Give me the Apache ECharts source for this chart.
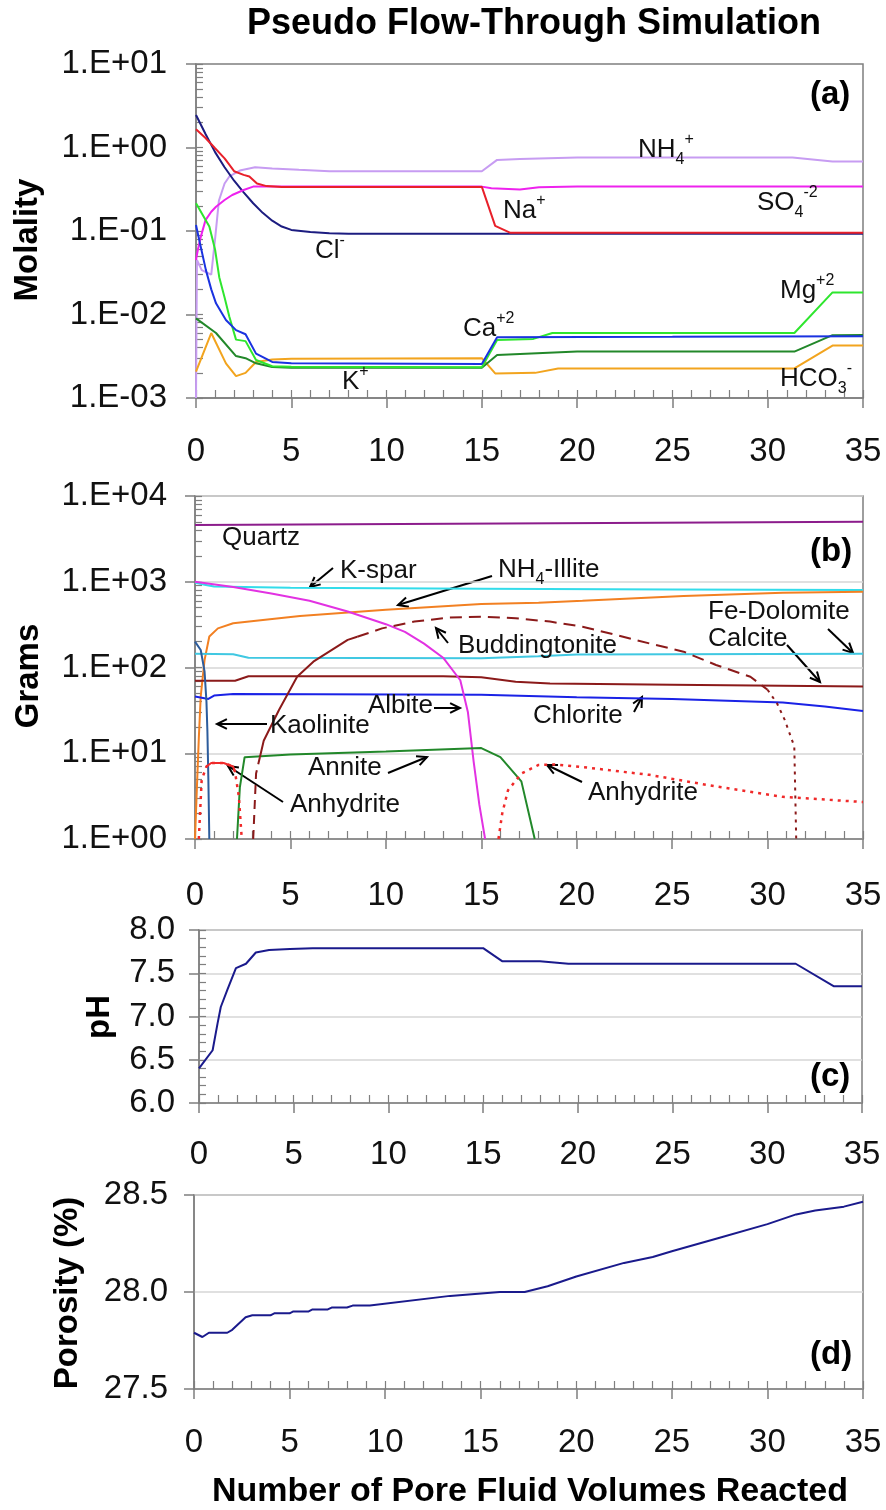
<!DOCTYPE html>
<html>
<head>
  <meta charset="utf-8">
  <script src="https://cdn.jsdelivr.net/npm/echarts@6/dist/echarts.min.js"></script>
  <style>
    html, body { margin: 0; padding: 0; background: #fff; }
    #main { width: 886px; height: 1510px; }
  </style>
</head>
<body>
  <div id="main"></div>
  <script>
    // x = number of pore fluid volumes reacted
    var xTicks = [0, 5, 10, 15, 20, 25, 30, 35];

    // (a) molality
    var molalityTicks = [0.001, 0.01, 0.1, 1, 10];
    var nh4 = [[0, 0.001], [0.05, 0.045], [0.3, 0.034], [0.8, 0.03], [1.0, 0.08], [1.2, 0.23], [1.5, 0.37], [1.75, 0.45], [2.3, 0.53], [3.1, 0.58], [4, 0.56], [5.4, 0.54], [7, 0.52], [15, 0.52], [15.8, 0.71], [17, 0.73], [20, 0.76], [31.3, 0.76], [33.4, 0.68], [35, 0.68]];
    var cl = [[0, 2.45], [0.5, 1.45], [1, 0.88], [1.5, 0.58], [2, 0.40], [2.5, 0.29], [3, 0.215], [3.5, 0.165], [4, 0.133], [4.5, 0.113], [5, 0.103], [6, 0.097], [7, 0.094], [8, 0.093], [35, 0.093]];
    var so4 = [[0, 0.045], [0.1, 0.06], [0.25, 0.085], [0.5, 0.135], [0.8, 0.17], [1.05, 0.195], [1.5, 0.235], [1.9, 0.27], [2.5, 0.31], [3, 0.34], [15, 0.34], [15.5, 0.325], [17, 0.315], [18, 0.335], [20, 0.34], [35, 0.34]];
    var na = [[0, 1.65], [0.5, 1.3], [1, 0.98], [1.5, 0.74], [2, 0.52], [2.5, 0.47], [2.8, 0.45], [3.2, 0.37], [3.7, 0.345], [4.5, 0.337], [15, 0.337], [15.7, 0.115], [16.5, 0.095], [35, 0.095]];
    var hco3 = [[0, 0.00207], [0.8, 0.006], [1.57, 0.0026], [2.1, 0.00183], [2.6, 0.002], [3.15, 0.0027], [4, 0.0029], [5, 0.00295], [15, 0.003], [15.7, 0.00197], [17.8, 0.002], [19, 0.00226], [31.4, 0.00226], [33.4, 0.00424], [35, 0.00424]];
    var kIon = [[0, 0.009], [1.05, 0.006], [2.1, 0.00318], [2.6, 0.003], [3.15, 0.0026], [4, 0.00235], [5, 0.0023], [15, 0.0023], [15.8, 0.00327], [20, 0.0036], [31.4, 0.0036], [33.4, 0.00565], [35, 0.0057]];
    var mg = [[0, 0.215], [0.7, 0.113], [1.0, 0.06], [1.22, 0.028], [1.5, 0.016], [1.75, 0.0094], [2.1, 0.005], [2.6, 0.0048], [3.15, 0.00285], [4, 0.0024], [5, 0.00236], [15, 0.00234], [15.8, 0.00495], [17.7, 0.0051], [18.7, 0.006], [31.4, 0.006], [33.4, 0.0184], [35, 0.0184]];
    var ca = [[0, 0.118], [0.17, 0.078], [0.52, 0.034], [0.8, 0.02], [1.05, 0.0136], [1.57, 0.0086], [2.1, 0.0065], [2.6, 0.0058], [3.15, 0.0034], [4, 0.0027], [5, 0.0026], [15, 0.00255], [15.8, 0.00533], [25, 0.0054], [35, 0.0055]];

    // (b) grams of minerals
    var gramTicks = [1, 10, 100, 1000, 10000];
    var quartz = [[0, 4600], [35, 5000]];
    var kspar = [[0, 980], [0.5, 920], [1, 880], [5, 850], [15, 830], [25, 810], [35, 800]];
    var nh4Illite = [[0, 1], [0.1, 4], [0.2, 15], [0.3, 46], [0.5, 122], [0.75, 230], [1.2, 286], [2, 328], [3.8, 363], [5.5, 398], [10, 470], [15, 550], [18, 570], [20.3, 600], [25.6, 683], [30.8, 745], [35, 765]];
    var feDolomite = [[0, 145], [2, 143], [2.8, 130], [15, 128], [18, 135], [20, 142], [35, 145]];
    var calcite = [[0, 70], [2.1, 70], [2.8, 79], [13, 79], [15, 77], [16.8, 68], [18.6, 65], [25, 63], [35, 60]];
    var chlorite = [[0, 46], [0.7, 43], [1, 47], [2, 49], [15, 48], [20, 45], [25, 43], [30.8, 39], [33, 35], [35, 31]];
    var kaolinite = [[0, 200], [0.3, 160], [0.5, 90], [0.6, 40], [0.65, 18], [0.7, 5], [0.75, 1]];
    var albite = [[0, 1000], [2, 870], [4, 730], [6, 600], [8, 450], [10, 320], [11, 260], [12, 190], [13, 130], [13.9, 71], [14.3, 30], [14.6, 8], [14.9, 2.5], [15.2, 1]];
    var annite = [[2.2, 1], [2.35, 4], [2.6, 9], [5, 9.7], [10, 10.5], [15, 11.5], [16, 9], [17.1, 4.7], [17.8, 1]];
    var buddStart = [[3.05, 1], [3.2, 5.8], [3.4, 9]];
    var buddSolid = [[3.4, 9], [3.6, 14], [4.4, 32], [5.35, 78], [6.2, 117], [8, 210], [8.5, 228]];
    var buddDash = [[8.5, 228], [9.8, 286], [11.5, 343], [13.3, 382], [15, 392], [16.8, 375], [18.6, 343], [20.3, 299], [22.1, 239], [23.8, 191], [25.6, 153], [27.3, 107], [29.1, 78], [30, 55]];
    var buddTail = [[30, 55], [30.5, 38], [30.9, 24.5], [31.4, 12], [31.5, 1]];
    var anhydrite1 = [[0.2, 1], [0.35, 4.9], [0.6, 7], [0.85, 7.7], [1.5, 7.7], [2.0, 7.0], [2.1, 6], [2.3, 3.1], [2.45, 1]];
    var anhydrite1Top = [[0.6, 7], [0.85, 7.7], [1.5, 7.7], [2.0, 7.0], [2.1, 6]];
    var anhydrite2 = [[15.9, 1], [16.1, 2], [16.4, 3.7], [17.1, 5.8], [18, 7.3], [18.9, 7.4], [20.3, 6.9], [23.8, 5.6], [27.3, 4.1], [30.8, 3.1], [35, 2.7]];

    // (c) pH
    var phTicks = [6.0, 6.5, 7.0, 7.5, 8.0];
    var ph = [[0, 6.4], [0.72, 6.61], [0.98, 6.92], [1.15, 7.11], [1.5, 7.31], [1.95, 7.56], [2.48, 7.61], [3.0, 7.74], [3.7, 7.77], [4.8, 7.78], [6, 7.79], [15, 7.79], [16, 7.64], [18, 7.64], [19.5, 7.61], [31.5, 7.61], [33.5, 7.35], [35, 7.35]];

    // (d) porosity
    var porosityTicks = [27.5, 28.0, 28.5];
    var porosity = [[0, 27.79], [0.44, 27.768], [0.78, 27.79], [1.74, 27.79], [2.0, 27.805], [2.7, 27.87], [3.05, 27.88], [4.0, 27.88], [4.2, 27.89], [5.0, 27.89], [5.2, 27.9], [6.0, 27.9], [6.2, 27.91], [7.0, 27.91], [7.2, 27.92], [8.0, 27.92], [8.3, 27.93], [9.2, 27.93], [13.4, 27.98], [16, 28.0], [17.3, 28.0], [18.5, 28.03], [20, 28.08], [22.5, 28.15], [24, 28.18], [25, 28.21], [27.5, 28.28], [30, 28.35], [31.5, 28.4], [32.5, 28.42], [34, 28.44], [35, 28.465]];

    var FONT = '"Liberation Sans", Arial, Helvetica, sans-serif';
    var AXIS = '#7f7f7f';
    var GRIDLINE = '#d6d6d6';
    var TICKFONT = 33;

    function sci(v) {
      var e = Math.round(Math.log10(v));
      return '1.E' + (e < 0 ? '-' : '+') + String(Math.abs(e)).padStart(2, '0');
    }

    // 1..9 times each decade, for the small inside ticks of a log axis
    function logMinor(decades) {
      var out = [];
      decades.forEach(function (d, i) {
        if (i === decades.length - 1) { out.push(d); return; }
        for (var k = 1; k < 10; k++) out.push(k * d);
      });
      return out;
    }

    function xAxes(g, margin) {
      return [{
        gridIndex: g, type: 'value', min: 0, max: 35, position: 'bottom',
        axisLine: { onZero: false, lineStyle: { color: AXIS, width: 1.5 } },
        axisTick: { length: 10, customValues: xTicks, lineStyle: { color: AXIS, width: 1.5 } },
        axisLabel: { customValues: xTicks, fontSize: TICKFONT, fontFamily: FONT, color: '#111', margin: margin },
        splitLine: { show: false }
      }, {
        gridIndex: g, type: 'value', min: 0, max: 35, interval: 1, position: 'bottom',
        axisLine: { show: false, onZero: false },
        axisTick: { inside: true, length: 8, lineStyle: { color: AXIS, width: 1.2 } },
        axisLabel: { show: false }, splitLine: { show: false }
      }];
    }

    function yLeft(g, opt, label, grid) {
      return Object.assign({
        gridIndex: g, position: 'left',
        axisLine: { show: true, onZero: false, lineStyle: { color: AXIS, width: 1.5 } },
        axisTick: { show: true, length: 10, lineStyle: { color: AXIS, width: 1.5 } },
        axisLabel: Object.assign({ fontSize: TICKFONT, fontFamily: FONT, color: '#111' }, label),
        splitLine: { show: grid, lineStyle: { color: GRIDLINE, width: 1.5 } }
      }, opt);
    }

    function yMinor(g, opt, tick) {
      return Object.assign({
        gridIndex: g, position: 'left',
        axisLine: { show: false, onZero: false },
        axisTick: Object.assign({ show: true, inside: true, length: 7, lineStyle: { color: AXIS, width: 1.2 } }, tick),
        axisLabel: { show: false }, splitLine: { show: false }
      }, opt);
    }

    function line(g, data, color, width, type, z) {
      return {
        type: 'line', xAxisIndex: 2 * g, yAxisIndex: 2 * g, data: data,
        showSymbol: false, symbol: 'none', silent: true, animation: false, z: z || 2,
        lineStyle: { color: color, width: width || 2, type: type || 'solid' }
      };
    }

    var richStyles = {
      n: { font: '26px ' + FONT, fill: '#111', lineHeight: 36 },
      sub: { font: '16px ' + FONT, fill: '#111', lineHeight: 16, verticalAlign: 'bottom' },
      sup: { font: '16px ' + FONT, fill: '#111', lineHeight: 16, verticalAlign: 'top' }
    };

    function label(x, y, parts) {
      var txt = parts.map(function (p) { return '{' + (p[1] || 'n') + '|' + p[0] + '}'; }).join('');
      return {
        type: 'text', x: x, y: y, z: 50,
        style: { text: txt, rich: richStyles, textAlign: 'left', textVerticalAlign: 'middle' }
      };
    }

    function bold(x, y, text, size, rot, align) {
      return {
        type: 'text', x: x, y: y, rotation: rot || 0, z: 50,
        style: {
          text: text, font: 'bold ' + size + 'px ' + FONT, fill: '#000',
          textAlign: align || 'center', textVerticalAlign: 'middle'
        }
      };
    }

    function arrow(x1, y1, x2, y2) {
      var a = Math.atan2(y2 - y1, x2 - x1), h = 11, s = 0.45;
      return {
        type: 'group', z: 50, children: [
          { type: 'line', shape: { x1: x1, y1: y1, x2: x2, y2: y2 }, style: { stroke: '#000', lineWidth: 2 } },
          {
            type: 'polyline',
            shape: { points: [[x2 - h * Math.cos(a - s), y2 - h * Math.sin(a - s)], [x2, y2], [x2 - h * Math.cos(a + s), y2 - h * Math.sin(a + s)]] },
            style: { stroke: '#000', lineWidth: 2, fill: null }
          }
        ]
      };
    }

    var myChart = echarts.init(document.getElementById('main'), null, { renderer: 'canvas' });

    var gridBox = { show: true, borderColor: AXIS, borderWidth: 1.5, backgroundColor: 'transparent', containLabel: false };

    var option = {
      animation: false,
      backgroundColor: '#fff',
      grid: [
        Object.assign({ left: 196, top: 64, width: 667, height: 334 }, gridBox),
        Object.assign({ left: 195, top: 496, width: 668, height: 343 }, gridBox),
        Object.assign({ left: 199, top: 930, width: 663, height: 173 }, gridBox),
        Object.assign({ left: 194, top: 1195, width: 669, height: 194 }, gridBox)
      ],
      xAxis: [].concat(xAxes(0, 37), xAxes(1, 40), xAxes(2, 35), xAxes(3, 37)),
      yAxis: [
        yLeft(0, { type: 'log', logBase: 10, min: 0.001, max: 10 }, { formatter: sci, margin: 29, customValues: molalityTicks }, false),
        yMinor(0, { type: 'log', logBase: 10, min: 0.001, max: 10 }, { customValues: logMinor(molalityTicks) }),
        yLeft(1, { type: 'log', logBase: 10, min: 1, max: 10000 }, { formatter: sci, margin: 28, customValues: gramTicks }, true),
        yMinor(1, { type: 'log', logBase: 10, min: 1, max: 10000 }, { customValues: logMinor(gramTicks) }),
        yLeft(2, { type: 'value', min: 6, max: 8, interval: 0.5 }, { formatter: function (v) { return v.toFixed(1); }, margin: 24, customValues: phTicks }, true),
        yMinor(2, { type: 'value', min: 6, max: 8, interval: 0.1 }, {}),
        yLeft(3, { type: 'value', min: 27.5, max: 28.5, interval: 0.5 }, { formatter: function (v) { return v.toFixed(1); }, margin: 26, customValues: porosityTicks }, true),
        yMinor(3, { type: 'value', min: 27.5, max: 28.5, interval: 0.5 }, { show: false })
      ],
      series: [
        line(0, nh4, '#c79cf2'),
        line(0, cl, '#1c1c80'),
        line(0, so4, '#ee22ee'),
        line(0, na, '#e8202a'),
        line(0, hco3, '#f2a41e'),
        line(0, kIon, '#22882a'),
        line(0, mg, '#2ee62e'),
        line(0, ca, '#1a32e0'),

        line(1, quartz, '#8c1c8c'),
        line(1, kspar, '#33dcea'),
        line(1, nh4Illite, '#f28022'),
        line(1, feDolomite, '#40c8e2'),
        line(1, calcite, '#8b1a1a'),
        line(1, chlorite, '#1a22e6'),
        line(1, kaolinite, '#2c5c9c'),
        line(1, albite, '#e232e2'),
        line(1, annite, '#22882a'),
        line(1, buddStart, '#8b1a1a', 2, [9, 6]),
        line(1, buddSolid, '#8b1a1a'),
        line(1, buddDash, '#8b1a1a', 2, [12, 7]),
        line(1, buddTail, '#8b1a1a', 2, [3, 5]),
        line(1, anhydrite1, '#f02a2a', 2.5, [3, 5]),
        line(1, anhydrite1Top, '#f02a2a', 2),
        line(1, anhydrite2, '#f02a2a', 2.5, [3, 5]),

        line(2, ph, '#1a1a8c'),
        line(3, porosity, '#1a1a8c')
      ],
      graphic: [
        bold(534, 24, 'Pseudo Flow-Through Simulation', 36),
        bold(28, 240, 'Molality', 33, Math.PI / 2),
        bold(29, 676, 'Grams', 33, Math.PI / 2),
        bold(100, 1017, 'pH', 33, Math.PI / 2),
        bold(68, 1293, 'Porosity (%)', 33, Math.PI / 2),
        bold(530, 1492, 'Number of Pore Fluid Volumes Reacted', 34),

        bold(810, 95, '(a)', 33, 0, 'left'),
        bold(810, 552, '(b)', 33, 0, 'left'),
        bold(810, 1077, '(c)', 33, 0, 'left'),
        bold(810, 1355, '(d)', 33, 0, 'left'),

        // panel (a) ion labels
        label(638, 150, [['NH'], ['4', 'sub'], ['+', 'sup']]),
        label(757, 203, [['SO'], ['4', 'sub'], ['-2', 'sup']]),
        label(503, 211, [['Na'], ['+', 'sup']]),
        label(315, 251, [['Cl'], ['-', 'sup']]),
        label(463, 329, [['Ca'], ['+2', 'sup']]),
        label(342, 382, [['K'], ['+', 'sup']]),
        label(780, 291, [['Mg'], ['+2', 'sup']]),
        label(780, 379, [['HCO'], ['3', 'sub'], ['-', 'sup']]),

        // panel (b) mineral labels
        label(222, 538, [['Quartz']]),
        label(340, 571, [['K-spar']]),
        arrow(333, 568, 310, 587),
        label(498, 570, [['NH'], ['4', 'sub'], ['-Illite']]),
        arrow(492, 576, 398, 605),
        label(458, 646, [['Buddingtonite']]),
        arrow(448, 643, 436, 628),
        label(708, 612, [['Fe-Dolomite']]),
        arrow(828, 629, 853, 653),
        label(708, 639, [['Calcite']]),
        arrow(787, 645, 820, 682),
        label(533, 716, [['Chlorite']]),
        arrow(634, 712, 642, 697),
        label(368, 706, [['Albite']]),
        arrow(434, 708, 460, 708),
        label(270, 726, [['Kaolinite']]),
        arrow(267, 724, 217, 724),
        label(308, 768, [['Annite']]),
        arrow(388, 773, 427, 757),
        label(290, 805, [['Anhydrite']]),
        arrow(283, 802, 228, 766),
        label(588, 793, [['Anhydrite']]),
        arrow(582, 782, 547, 765)
      ]
    };

    myChart.setOption(option);
  </script>
</body>
</html>
